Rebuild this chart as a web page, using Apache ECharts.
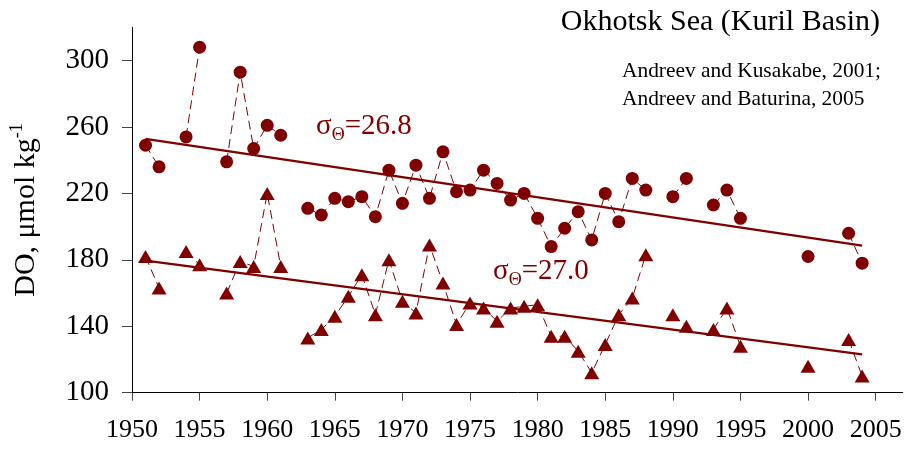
<!DOCTYPE html>
<html>
<head>
<meta charset="utf-8">
<script src="https://cdn.jsdelivr.net/npm/echarts@6/dist/echarts.min.js"></script>
<style>
html,body{margin:0;padding:0;background:#fff;}
#c{width:906px;height:449px;}
</style>
</head>
<body>
<div id="c"></div>
<script>
// ---- data ----
var years = [1951,1952,1954,1955,1957,1958,1959,1960,1961,1963,1964,1965,1966,1967,1968,1969,1970,1971,1972,1973,1974,1975,1976,1977,1978,1979,1980,1981,1982,1983,1984,1985,1986,1987,1988,1990,1991,1993,1994,1995,2000,2003,2004];
var do268 = [249,236,254,308,239,293,247,261,255,211,207,217,215,218,206,234,214,237,217,245,221,222,234,226,216,220,205,188,199,209,192,220,203,229,222,218,229,213,222,205,182,196,178];
var do270 = [182,163,185,177,160,179,176,220,176,133,138,146,158,171,147,180,155,148,189,166,141,154,151,143,151,152,153,134,134,125,112,129,147,157,183,147,140,138,151,128,116,132,110];
var trendYears = [1951, 2004];
var trend268 = [252.8, 188.6];
var trend270 = [179.5, 123.1];
var xTicks = [1950,1955,1960,1965,1970,1975,1980,1985,1990,1995,2000,2005];
var yTicks = [100,140,180,220,260,300];

var RED = '#800000';
var SERIF = '"Liberation Serif","Times New Roman",serif';

function pts(xs, ys){ return xs.map(function(x,i){ return [x, ys[i]]; }); }
function linked(xs, ys){
  var out = [];
  for (var i=0;i<xs.length;i++){
    out.push([xs[i], ys[i]]);
    if (i < xs.length-1 && xs[i+1]-xs[i] > 1) out.push([xs[i]+0.5, '-']);
  }
  return out;
}
var sigmaRich = {
  s:{fontFamily:SERIF, fontSize:29, fill:RED, color:RED},
  b:{fontFamily:SERIF, fontSize:18, fill:RED, color:RED, padding:[18,0,0,0]}
};

var chart = echarts.init(document.getElementById('c'), null, {renderer:'canvas'});
chart.setOption({
  animation:false,
  grid:{left:131.7, right:3.3, top:27.3, bottom:56.3, containLabel:false},
  xAxis:{
    type:'value', min:1950, max:2007, interval:5,
    splitLine:{show:false},
    axisLine:{show:true, onZero:false, lineStyle:{color:'#000', width:1}},
    axisTick:{show:true, length:8, customValues:xTicks, lineStyle:{color:'#444'}},
    axisLabel:{customValues:xTicks, formatter:function(v){ return String(v); },
      fontFamily:SERIF, fontSize:26, color:'#000', margin:24}
  },
  yAxis:{
    type:'value', min:100, max:320, interval:40,
    splitLine:{show:false},
    axisLine:{show:true, onZero:false, lineStyle:{color:'#000', width:1}},
    axisTick:{show:true, length:10, customValues:yTicks, lineStyle:{color:'#444'}},
    axisLabel:{customValues:yTicks, fontFamily:SERIF, fontSize:29, color:'#000', margin:23},
    name:'{a|DO, μmol kg}{sup|-1}',
    nameLocation:'middle', nameRotate:90, nameGap:88,
    nameTextStyle:{fontFamily:SERIF, color:'#000',
      rich:{a:{fontFamily:SERIF, fontSize:30, color:'#000'},
            sup:{fontFamily:SERIF, fontSize:18, color:'#000', padding:[0,0,18,0]}}}
  },
  graphic:[
    {type:'text', right:26, top:7, style:{text:'Okhotsk Sea (Kuril Basin)', font:'30px '+SERIF, fill:'#000'}},
    {type:'text', left:622, top:61, style:{text:'Andreev and Kusakabe, 2001;', font:'21.4px '+SERIF, fill:'#000'}},
    {type:'text', left:622, top:89, style:{text:'Andreev and Baturina, 2005', font:'21.4px '+SERIF, fill:'#000'}},
    {type:'text', left:316, top:112, style:{text:'{s|σ}{b|Θ}{s|=26.8}', fill:RED, rich:sigmaRich}},
    {type:'text', left:493, top:257, style:{text:'{s|σ}{b|Θ}{s|=27.0}', fill:RED, rich:sigmaRich}}
  ],
  series:[
    {type:'line', data:linked(years, do268), showSymbol:false, connectNulls:false,
     lineStyle:{color:RED, width:1, type:[9,5]}, z:2, silent:true},
    {type:'line', data:linked(years, do270), showSymbol:false, connectNulls:false,
     lineStyle:{color:RED, width:1, type:[9,5]}, z:2, silent:true},
    {type:'line', data:pts(trendYears, trend268), showSymbol:false,
     lineStyle:{color:RED, width:2.2}, z:3},
    {type:'line', data:pts(trendYears, trend270), showSymbol:false,
     lineStyle:{color:RED, width:2.2}, z:3},
    {type:'scatter', data:pts(years, do268), symbol:'circle', symbolSize:13,
     itemStyle:{color:RED, opacity:1}, z:4},
    {type:'scatter', data:pts(years, do270), symbol:'triangle', symbolSize:[15,13],
     itemStyle:{color:RED, opacity:1}, z:4}
  ]
});
</script>
</body>
</html>
